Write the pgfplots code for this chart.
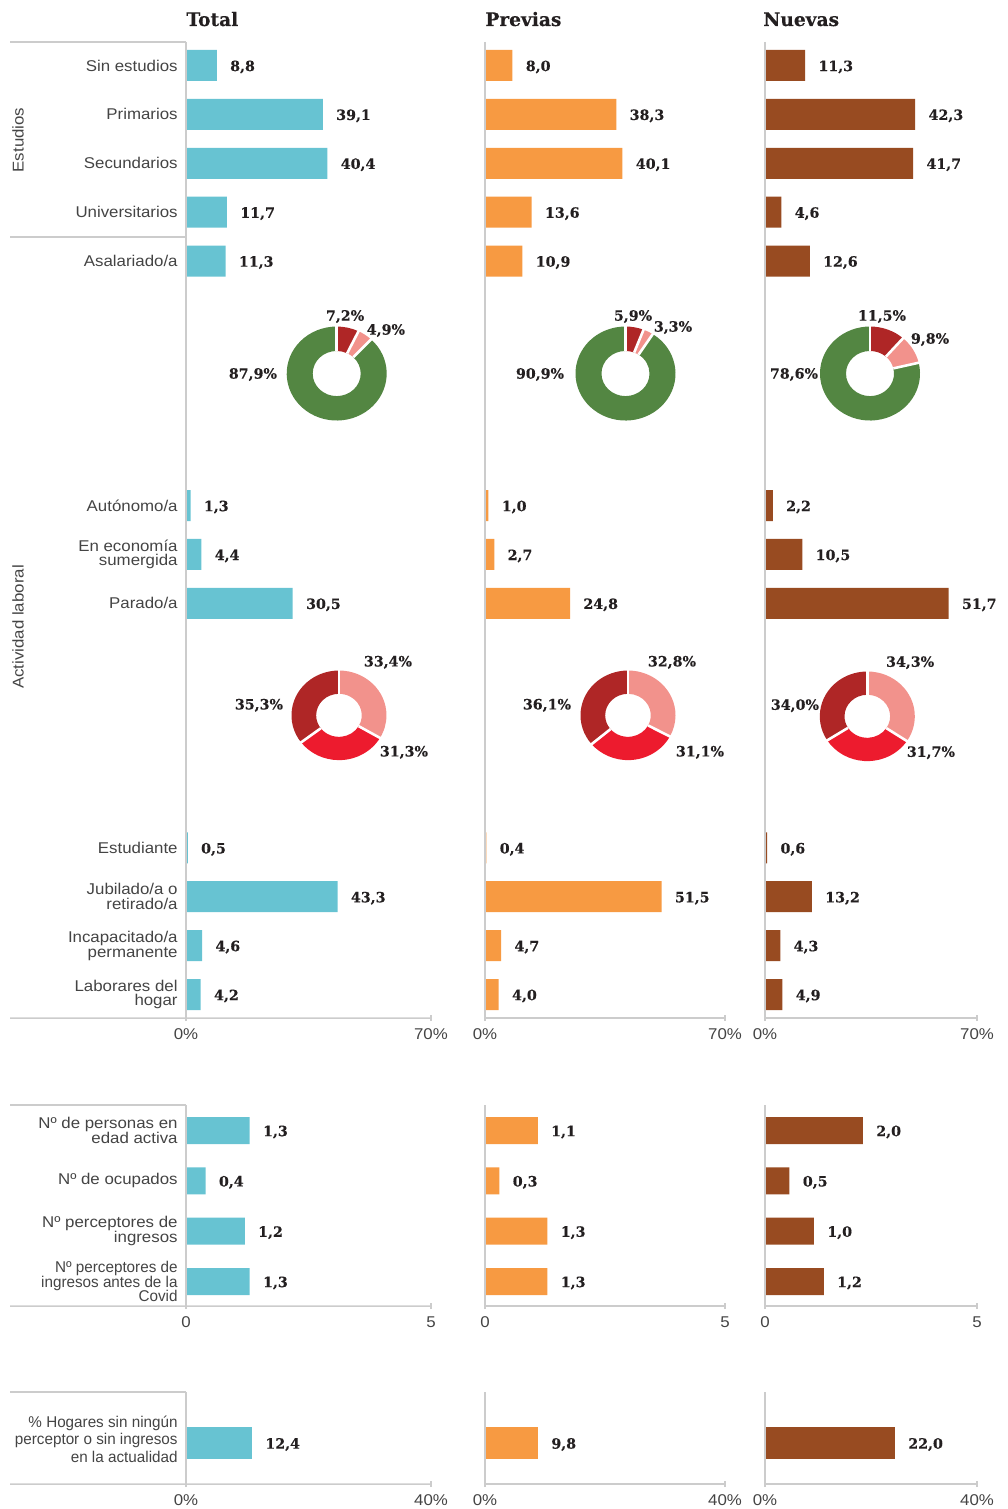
\documentclass[border=0pt]{standalone}
\usepackage{fontspec}
\setmainfont{Liberation Sans}[FakeStretch=1.08]
\newfontfamily\narrowf{Liberation Sans}[FakeStretch=0.977]
\newfontfamily\slab{DejaVu Serif}[BoldFeatures={FakeBold=0.35}]
\usepackage{pgfplots}
\pgfplotsset{compat=1.18}
\usetikzlibrary{calc}

\definecolor{cT}{HTML}{67C3D2}
\definecolor{cP}{HTML}{F79A42}
\definecolor{cN}{HTML}{984B21}
\definecolor{dgreen}{HTML}{538642}
\definecolor{dred}{HTML}{AF2626}
\definecolor{pinkc}{HTML}{F2928C}
\definecolor{redc}{HTML}{ED1B2E}
\definecolor{lgray}{HTML}{CCCCCC}
\definecolor{txt}{HTML}{444444}
\definecolor{vtxt}{HTML}{231F20}

\pgfplotsset{
  base/.style={
    scale only axis, anchor=north west, clip=false,
    xbar, xmin=0,
    axis line style={draw=none},
    ytick style={draw=none},
    xtick style={draw=lgray, line width=0.75pt},
    major tick length=3pt, tick align=center, tick pos=left,
    xticklabel style={font=\fontsize{7.8}{8}\selectfont, text=txt, yshift=-0.5pt},
    yticklabel style={font=\fontsize{7.8}{7.4}\selectfont, text=txt, align=right, inner sep=0pt, xshift=-2.5pt},
    /pgf/number format/assume math mode=true,
    point meta=x,
    nodes near coords={\pgfmathprintnumber[fixed,fixed zerofill,precision=1,use comma]{\pgfplotspointmeta}},
    every node near coord/.append style={font=\slab\bfseries\fontsize{7.1}{7}\selectfont, text=vtxt, anchor=west, inner sep=0pt, xshift=6.5pt, yshift=-0.75pt},
  },
  sec1/.style={base, height=488pt, ymin=-19.48, ymax=0.48, bar width=15.5pt},
  sec2/.style={base, height=100.5pt, ymin=-3.487, ymax=0.507, bar width=13.5pt},
  sec3/.style={base, height=46pt, ymin=-0.891, ymax=1.109, bar width=16pt},
}

\newcommand\seg[8]{%
  \fill[#4] ($(#1)+(#2:#5 and #6)$) arc[start angle=#2, end angle=#3, x radius=#5, y radius=#6]
    -- ($(#1)+(#3:#7 and #8)$) arc[start angle=#3, end angle=#2, x radius=#7, y radius=#8] -- cycle;}

% center, v1, v2, v3, c1, c2, c3, rx, ry
\newcommand\donut[9]{%
  \pgfmathsetmacro\dsum{#2+#3+#4}%
  \pgfmathsetmacro\dA{90}%
  \pgfmathsetmacro\dB{90-((#2)/\dsum)*360}%
  \pgfmathsetmacro\dC{90-((#2+#3)/\dsum)*360}%
  \pgfmathsetmacro\dD{-270}%
  \pgfmathsetmacro\rix{0.48*#8}%
  \pgfmathsetmacro\riy{0.48*#9}%
  \seg{#1}{\dA}{\dB}{#5}{#8pt}{#9pt}{\rix pt}{\riy pt}%
  \seg{#1}{\dB}{\dC}{#6}{#8pt}{#9pt}{\rix pt}{\riy pt}%
  \seg{#1}{\dC}{\dD}{#7}{#8pt}{#9pt}{\rix pt}{\riy pt}%
  \foreach \a in {\dA,\dB,\dC}{\draw[white, line width=1.3pt] ($(#1)+(\a:\rix pt and \riy pt)$) -- ($(#1)+(\a:#8pt+1pt and #9pt+1pt)$);}%
}

\tikzset{dlab/.style={font=\slab\bfseries\fontsize{7.1}{7}\selectfont, text=vtxt, inner sep=0pt},
  ttl/.style={anchor=base west, inner sep=0pt, font=\slab\bfseries\fontsize{9.3}{10}\selectfont, text=vtxt},
  grp/.style={rotate=90, inner sep=0pt, font=\fontsize{7.8}{8}\selectfont, text=txt}}

\begin{document}
\begin{tikzpicture}
\useasboundingbox (0,0) rectangle (503.5pt,-754.5pt);

\node[ttl] at (93pt,-13pt) {Total};
\node[ttl] at (242.5pt,-13pt) {Previas};
\node[ttl] at (381.5pt,-13pt) {Nuevas};

\node[grp] at (9pt,-70pt) {Estudios};
\node[grp] at (9pt,-313.5pt) {Actividad laboral};

% ---------------- Section 1 ----------------
\begin{axis}[sec1, name=t1, at={(93pt,-21pt)}, width=122.5pt, xmax=70,
  xtick={0,70}, xticklabels={0\%,70\%},
  ytick={-19,-18,-17,-16,-11,-10,-9,-4,-3,-2,-1,0},
  yticklabels={{Laborares del\\hogar},{Incapacitado/a\\permanente},{Jubilado/a o\\retirado/a},{Estudiante},{Parado/a},{En economía\\sumergida},{Autónomo/a},{Asalariado/a},{Universitarios},{Secundarios},{Primarios},{Sin estudios}}]
\addplot[fill=cT, draw=none] coordinates {(8.8,0) (39.1,-1) (40.4,-2) (11.7,-3) (11.3,-4) (1.3,-9) (4.4,-10) (30.5,-11) (0.5,-16) (43.3,-17) (4.6,-18) (4.2,-19)};
\coordinate (TD1) at (axis cs:43.06,-6.30);
\coordinate (TD2) at (axis cs:43.71,-13.29);
\end{axis}

\begin{axis}[sec1, name=p1, at={(242.5pt,-21pt)}, width=120pt, xmax=70,
  xtick={0,70}, xticklabels={0\%,70\%}, ytick=\empty]
\addplot[fill=cP, draw=none] coordinates {(8.0,0) (38.3,-1) (40.1,-2) (13.6,-3) (10.9,-4) (1.0,-9) (2.7,-10) (24.8,-11) (0.4,-16) (51.5,-17) (4.7,-18) (4.0,-19)};
\coordinate (PD1) at (axis cs:40.98,-6.30);
\coordinate (PD2) at (axis cs:41.71,-13.29);
\end{axis}

\begin{axis}[sec1, name=n1, at={(382.5pt,-21pt)}, width=106pt, xmax=59.7,
  xtick={0,59.7}, xticklabels={0\%,70\%}, ytick=\empty]
\addplot[fill=cN, draw=none] coordinates {(11.3,0) (42.3,-1) (41.7,-2) (4.6,-3) (12.6,-4) (2.2,-9) (10.5,-10) (51.7,-11) (0.6,-16) (13.2,-17) (4.3,-18) (4.9,-19)};
\coordinate (ND1) at (axis cs:29.57,-6.30);
\coordinate (ND2) at (axis cs:28.81,-13.31);
\end{axis}

% ---------------- Section 2 ----------------
\begin{axis}[sec2, name=t2, at={(93pt,-552.5pt)}, width=122.5pt, xmax=5,
  xtick={0,5}, xticklabels={0,5},
  ytick={-3,-2,-1,0},
  yticklabels={{\narrowf Nº perceptores de\\\narrowf ingresos antes de la\\\narrowf Covid},{Nº perceptores de\\ingresos},{Nº de ocupados},{Nº de personas en\\edad activa}}]
\addplot[fill=cT, draw=none] coordinates {(1.3,0) (0.4,-1) (1.2,-2) (1.3,-3)};
\end{axis}

\begin{axis}[sec2, name=p2, at={(242.5pt,-552.5pt)}, width=120pt, xmax=5,
  xtick={0,5}, xticklabels={0,5}, ytick=\empty]
\addplot[fill=cP, draw=none] coordinates {(1.1,0) (0.3,-1) (1.3,-2) (1.3,-3)};
\end{axis}

\begin{axis}[sec2, name=n2, at={(382.5pt,-552.5pt)}, width=106pt, xmax=4.33,
  xtick={0,4.33}, xticklabels={0,5}, ytick=\empty]
\addplot[fill=cN, draw=none] coordinates {(2.0,0) (0.5,-1) (1.0,-2) (1.2,-3)};
\end{axis}

% ---------------- Section 3 ----------------
\begin{axis}[sec3, name=t3, at={(93pt,-696pt)}, width=122.5pt, xmax=46,
  xtick={0,46}, xticklabels={0\%,40\%},
  ytick={0}, yticklabels={{\narrowf\% Hogares sin ningún\\\narrowf perceptor o sin ingresos\\\narrowf en la actualidad}},
  yticklabel style={font=\fontsize{7.8}{8.7}\selectfont, yshift=2pt}]
\addplot[fill=cT, draw=none] coordinates {(12.4,0)};
\end{axis}

\begin{axis}[sec3, name=p3, at={(242.5pt,-696pt)}, width=120pt, xmax=44.4,
  xtick={0,44.4}, xticklabels={0\%,40\%}, ytick=\empty]
\addplot[fill=cP, draw=none] coordinates {(9.8,0)};
\end{axis}

\begin{axis}[sec3, name=n3, at={(382.5pt,-696pt)}, width=106pt, xmax=35.9,
  xtick={0,35.9}, xticklabels={0\%,40\%}, ytick=\empty]
\addplot[fill=cN, draw=none] coordinates {(22.0,0)};
\end{axis}

% ---------------- axis lines ----------------
\begin{scope}[draw=lgray, line width=0.75pt]
\draw (5pt,-21pt) -- (t1.north west);
\draw (5pt,-118.5pt) -- (93pt,-118.5pt);
\draw (5pt,-509pt) -- (t1.south east);
\draw (t1.north west) -- (t1.south west);
\draw (p1.north west) -- (p1.south west) -- (p1.south east);
\draw (n1.north west) -- (n1.south west) -- (n1.south east);

\draw (5pt,-552.5pt) -- (t2.north west);
\draw (5pt,-653pt) -- (t2.south east);
\draw (t2.north west) -- (t2.south west);
\draw (p2.north west) -- (p2.south west) -- (p2.south east);
\draw (n2.north west) -- (n2.south west) -- (n2.south east);

\draw (5pt,-696pt) -- (t3.north west);
\draw (5pt,-742pt) -- (t3.south east);
\draw (t3.north west) -- (t3.south west);
\draw (p3.north west) -- (p3.south west) -- (p3.south east);
\draw (n3.north west) -- (n3.south west) -- (n3.south east);
\end{scope}

% ---------------- donuts ----------------
\donut{TD1}{7.2}{4.9}{87.9}{dred}{pinkc}{dgreen}{25}{23.5}
\donut{PD1}{5.9}{3.3}{90.9}{dred}{pinkc}{dgreen}{25}{23.5}
\donut{ND1}{11.5}{9.8}{78.6}{dred}{pinkc}{dgreen}{25}{23.5}
\donut{TD2}{33.4}{31.3}{35.3}{pinkc}{redc}{dred}{23.75}{22.4}
\donut{PD2}{32.8}{31.1}{36.1}{pinkc}{redc}{dred}{23.75}{22.4}
\donut{ND2}{34.3}{31.7}{34.0}{pinkc}{redc}{dred}{23.75}{22.4}

\node[dlab] at ($(TD1)+(4.2pt,28.5pt)$) {7,2\%};
\node[dlab] at ($(TD1)+(24.6pt,21.5pt)$) {4,9\%};
\node[dlab] at ($(TD1)+(-41.9pt,-0.5pt)$) {87,9\%};
\node[dlab] at ($(TD2)+(24.5pt,26.5pt)$) {33,4\%};
\node[dlab] at ($(TD2)+(32.5pt,-18.5pt)$) {31,3\%};
\node[dlab] at ($(TD2)+(-40pt,5pt)$) {35,3\%};

\node[dlab] at ($(PD1)+(3.75pt,28.5pt)$) {5,9\%};
\node[dlab] at ($(PD1)+(23.75pt,23pt)$) {3,3\%};
\node[dlab] at ($(PD1)+(-42.75pt,-0.5pt)$) {90,9\%};
\node[dlab] at ($(PD2)+(22pt,26.5pt)$) {32,8\%};
\node[dlab] at ($(PD2)+(36pt,-18.5pt)$) {31,1\%};
\node[dlab] at ($(PD2)+(-40.5pt,5pt)$) {36,1\%};

\node[dlab] at ($(ND1)+(6pt,28.5pt)$) {11,5\%};
\node[dlab] at ($(ND1)+(30pt,17pt)$) {9,8\%};
\node[dlab] at ($(ND1)+(-38pt,-0.5pt)$) {78,6\%};
\node[dlab] at ($(ND2)+(21.4pt,26.8pt)$) {34,3\%};
\node[dlab] at ($(ND2)+(31.8pt,-18.2pt)$) {31,7\%};
\node[dlab] at ($(ND2)+(-36.2pt,5.3pt)$) {34,0\%};
\end{tikzpicture}
\end{document}
